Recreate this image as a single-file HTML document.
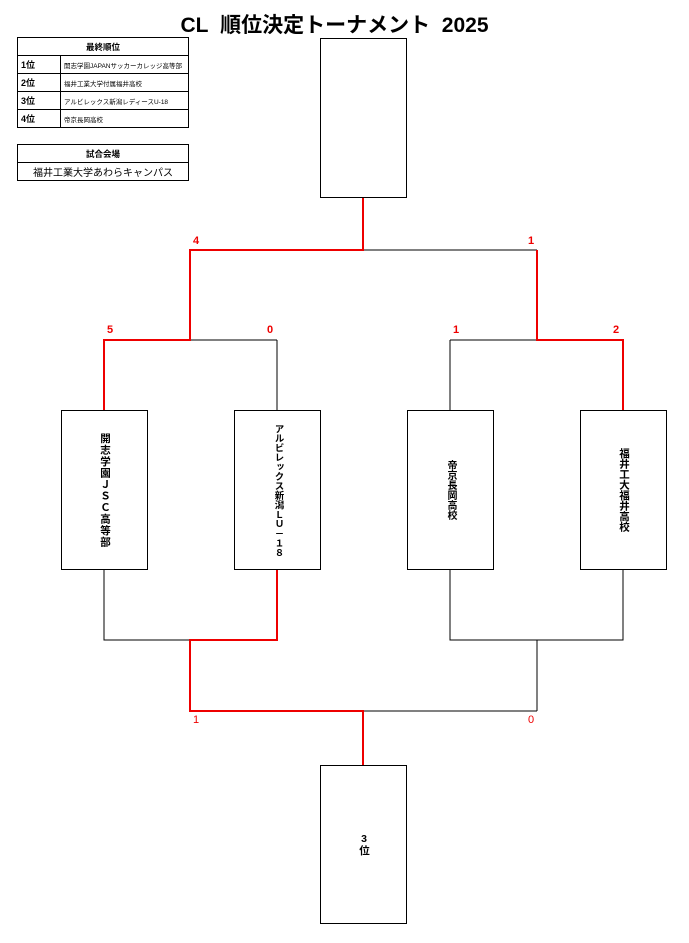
<!DOCTYPE html>
<html><head><meta charset="utf-8"><style>
body{margin:0;width:689px;height:943px;background:#fff;position:relative;overflow:hidden;font-family:"Liberation Sans","Noto Sans CJK JP",sans-serif;}
.box{position:absolute;border:1.5px solid #000;box-sizing:border-box;background:#fff;}
.v{position:absolute;left:0;right:0;top:0;bottom:0;display:flex;align-items:center;justify-content:center;}
.v span{writing-mode:vertical-rl;text-orientation:upright;font-weight:bold;font-size:10.5px;line-height:11px;letter-spacing:1px;white-space:nowrap;}
.n{position:absolute;font-size:11px;color:#e00;font-weight:bold;}
table{position:absolute;border-collapse:collapse;font-size:6.5px;}
td{border:1px solid #000;height:17px;padding:0 3px;}
</style></head><body>
<div style="position:absolute;left:-10px;width:689px;top:9px;text-align:center;font-weight:bold;font-size:21px;">CL&nbsp;&nbsp;順位決定トーナメント&nbsp;&nbsp;2025</div>
<table style="left:17px;top:37px;width:172px">
<tr><td colspan="2" style="text-align:center;font-weight:bold;font-size:8.5px">最終順位</td></tr>
<tr><td style="width:36px;font-weight:bold;font-size:9px">1位</td><td>開志学園JAPANサッカーカレッジ高等部</td></tr>
<tr><td style="font-weight:bold;font-size:9px">2位</td><td>福井工業大学付属福井高校</td></tr>
<tr><td style="font-weight:bold;font-size:9px">3位</td><td>アルビレックス新潟レディースU-18</td></tr>
<tr><td style="font-weight:bold;font-size:9px">4位</td><td>帝京長岡高校</td></tr>
</table>
<table style="left:17px;top:144px;width:172px">
<tr><td style="text-align:center;font-weight:bold;font-size:8.5px">試合会場</td></tr>
<tr><td style="text-align:center;font-size:10px">福井工業大学あわらキャンパス</td></tr>
</table>
<svg style="position:absolute;left:0;top:0" width="689" height="943">
<g stroke="#000" stroke-width="1" fill="none">
<path d="M363 250H537M190 340H277M277 340V410M450 340H537M450 340V410"/>
<path d="M104 569V640H190M450 569V640H623V569M537 640V711M363 711H537"/>
</g>
<g stroke="#e00" stroke-width="2" fill="none">
<path d="M363 197V250H190V340H104V410"/>
<path d="M537 250V340H623V410"/>
<path d="M277 569V640H190V711H363V765"/>
</g>
</svg>
<div class="box" style="left:320px;top:38px;width:87px;height:160px"></div>
<div class="box" style="left:61px;top:410px;width:87px;height:160px"><div class="v"><span>開志学園ＪＳＣ高等部</span></div></div>
<div class="box" style="left:234px;top:410px;width:87px;height:160px"><div class="v"><span style="font-size:9.5px;letter-spacing:0;line-height:10px">アルビレックス新潟ＬＵ－１８</span></div></div>
<div class="box" style="left:407px;top:410px;width:87px;height:160px"><div class="v"><span style="font-size:10px;letter-spacing:0">帝京長岡高校</span></div></div>
<div class="box" style="left:580px;top:410px;width:87px;height:160px"><div class="v"><span style="font-size:10.5px;letter-spacing:0">福井工大福井高校</span></div></div>
<div class="box" style="left:320px;top:765px;width:87px;height:159px"><div class="v"><span style="letter-spacing:0">3位</span></div></div>
<div class="n" style="left:193px;top:235px">4</div>
<div class="n" style="left:528px;top:235px">1</div>
<div class="n" style="left:107px;top:324px">5</div>
<div class="n" style="left:267px;top:324px">0</div>
<div class="n" style="left:453px;top:324px">1</div>
<div class="n" style="left:613px;top:324px">2</div>
<div class="n" style="left:193px;top:714px;font-weight:normal">1</div>
<div class="n" style="left:528px;top:714px;font-weight:normal">0</div>
</body></html>
